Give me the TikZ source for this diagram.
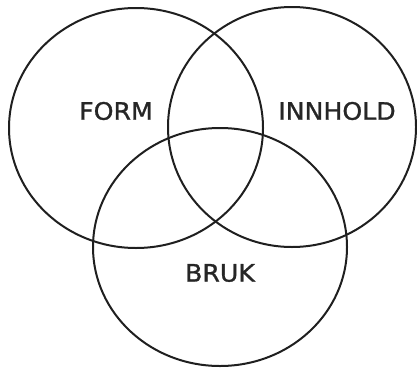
\documentclass[tikz,border=0pt]{standalone}
\usepackage{fontspec}
\newfontfamily\lblfont[FakeStretch=1.05,FakeBold=1.2]{DejaVu Sans}
\begin{document}
\begin{tikzpicture}[x=1pt,y=-1pt,
  ring/.style={line width=2pt, draw=black!88},
  lbl/.style={font=\lblfont\fontsize{24}{28}\selectfont, text=black!85, inner sep=0pt}]
\useasboundingbox (0,0) rectangle (417,367);
\draw[ring] (136,128) ellipse [x radius=127, y radius=120];
\draw[ring] (292,127) ellipse [x radius=124, y radius=120];
\draw[ring] (220,247) ellipse [x radius=127, y radius=119];
\node[lbl] (form) at (116,111) {FORM};
\node[lbl] (innhold) at (337,111) {INNHOLD};
\node[lbl] (bruk) at (220,273) {BRUK};
\end{tikzpicture}
\end{document}
